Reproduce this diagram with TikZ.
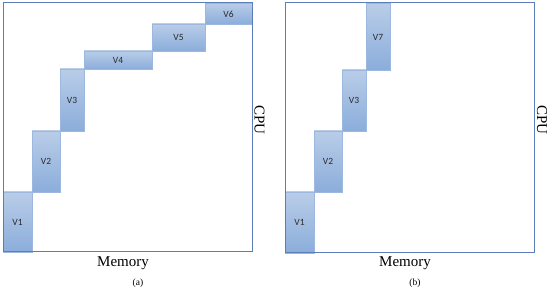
\documentclass[tikz,border=0pt]{standalone}
\usepackage{fontspec}
\setmainfont{Liberation Serif}
\newfontfamily\vfont{Carlito}
\definecolor{frame}{HTML}{5B7DB8}
\definecolor{vtop}{HTML}{B9CDE8}
\definecolor{vbot}{HTML}{8BADDB}
\definecolor{vedge}{HTML}{9DB8DF}
\definecolor{vtext}{HTML}{2A2A2A}
\tikzset{
  framebox/.style={draw=frame, line width=1pt},
  vblock/.style={draw=vedge, line width=0.4pt, top color=vtop, bottom color=vbot},
  vlab/.style={font=\vfont\fontsize{9.5}{11}\selectfont, text=vtext, inner sep=0pt},
  axlab/.style={font=\fontsize{15}{17}\selectfont, inner sep=0pt},
  sublab/.style={font=\fontsize{9.5}{11}\selectfont, inner sep=0pt}
}
\begin{document}
\begin{tikzpicture}[x=1pt,y=-1pt]
\useasboundingbox (0,0) rectangle (550,291);
% ---- (a)
\path[vblock] (3,192) rectangle (32,252);
\path[vblock] (32,131) rectangle (60,192);
\path[vblock] (60,69) rectangle (84,131);
\path[vblock] (84,51) rectangle (152,69);
\path[vblock] (152,24) rectangle (205,51);
\path[vblock] (205,3) rectangle (252,24);
\draw[framebox] (3,3) rectangle (252,252);
\node[vlab] (a1) at (17.5,222) {V1};
\node[vlab] (a2) at (46,161.5) {V2};
\node[vlab] (a3) at (72,100) {V3};
\node[vlab] (a4) at (118,60) {V4};
\node[vlab] (a5) at (178.5,37.5) {V5};
\node[vlab] (a6) at (228.5,14) {V6};
\node[axlab] (amem) at (123,263) {Memory};
\node[axlab, rotate=-90] (acpu) at (259.5,120) {CPU};
\node[sublab] (acap) at (138,283) {(a)};
% ---- (b)
\path[vblock] (285,192) rectangle (314,253);
\path[vblock] (314,131) rectangle (342,192);
\path[vblock] (342,70) rectangle (366,131);
\path[vblock] (366,3) rectangle (390,70);
\draw[framebox] (285,3) rectangle (534,253);
\node[vlab] (b1) at (299.5,222.5) {V1};
\node[vlab] (b2) at (328,161.5) {V2};
\node[vlab] (b3) at (354,100.5) {V3};
\node[vlab] (b7) at (378,37) {V7};
\node[axlab] (bmem) at (405,263) {Memory};
\node[axlab, rotate=-90] (bcpu) at (542,120) {CPU};
\node[sublab] (bcap) at (415,283) {(b)};
\end{tikzpicture}
\end{document}
